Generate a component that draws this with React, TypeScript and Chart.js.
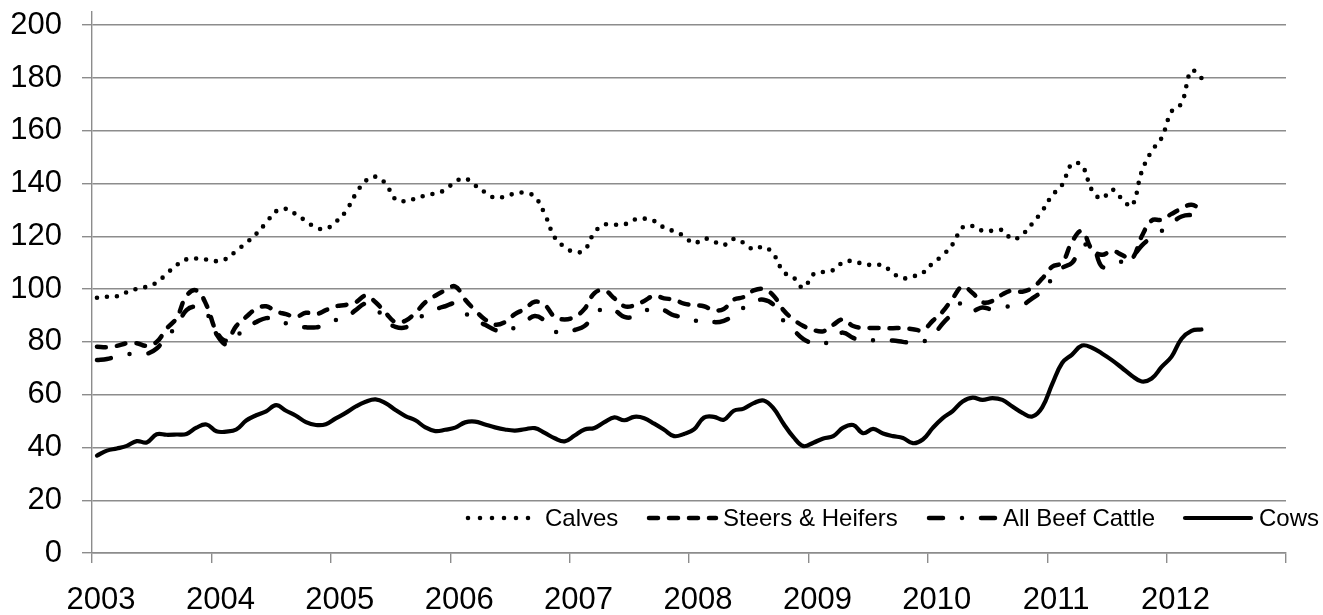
import React, { useEffect, useRef } from 'react';
import { Chart, registerables } from 'chart.js';

Chart.register(...registerables);

const START_YEAR = 2003;
const yearTicks = [2003, 2004, 2005, 2006, 2007, 2008, 2009, 2010, 2011, 2012, 2013];
const valueTicks = [0, 20, 40, 60, 80, 100, 120, 140, 160, 180, 200];
const seriesNames = ['Calves', 'Steers & Heifers', 'All Beef Cattle', 'Cows'];

// monthly values, Jan 2003 .. Apr 2012
const calves = [
  96.7, 97.1, 97.3, 98.8, 100.1, 100.9, 102.5, 105.8, 109.1, 111.3, 111.6, 111.2,
  110.6, 111.5, 114.5, 117.5, 120.9, 125.1, 129.5, 130.4, 128.3, 125.8, 123.3, 122.8,
  125.5, 129.4, 136, 141, 142.6, 140, 134, 133.3, 134.3, 135.5, 136.3, 137.6,
  140.7, 141.9, 139.3, 136.7, 134.6, 135.1, 136.2, 136.5, 135, 128.5, 119.6, 116,
  114, 114.8, 121.5, 124.4, 124.4, 124.5, 126.3, 126.7, 125.8, 123.3, 121.9, 120.1,
  117.3, 119.2, 118, 116.7, 119, 117.5, 115, 116.1, 113.2, 106.5, 104.4, 100.5,
  105.6, 106.5, 107.2, 110.2, 110.6, 109.5, 109.1, 109, 106, 104.1, 104.8, 106.2,
  109.8, 112.8, 117, 123.4, 123.9, 122.1, 122.1, 122.3, 118.9, 120.7, 124.8, 129.6,
  135.5, 139.5, 147.5, 146.8, 137.5, 134.3, 137.7, 134.3, 131.5, 144.5, 152.3, 157.3,
  167.3, 170.4, 182.8, 180,
];

const steersHeifers = [
  78.2, 78, 78.5, 79.5, 79.5, 78.5, 80, 85, 89, 97.5, 99.5, 94,
  84, 80.5, 86, 89.5, 92.5, 93.5, 91.5, 90.5, 89.5, 91, 90.5, 92,
  93.5, 94, 95, 97.5, 95, 91, 87.5, 88, 91, 95, 97.5, 99.5,
  101, 96, 92, 88.5, 86.5, 87.5, 90.5, 92.5, 95.2, 94, 89.5, 88.5,
  89.5, 92.5, 98.5, 99.5, 96.5, 93.5, 93.8, 95.5, 97.5, 96.5, 96, 94.5,
  94, 93.5, 92, 92.5, 96, 97, 99.5, 100, 97.5, 92, 88.5, 86,
  84.5, 84, 86.5, 88.5, 86, 85.3, 85.3, 85.2, 85.2, 85.2, 84.8, 84.5,
  88, 91.5, 96.5, 101, 98.5, 95, 95.5, 98, 99.5, 99, 100.5, 104,
  108.5, 110, 118, 122, 115, 113, 114.5, 113, 111.5, 120, 126, 126.3,
  128.5, 130.5, 132, 130,
];

const allBeefCattle = [
  73.1, 73.5, 74.5, 75.3, 75.5, 75.5, 77.5, 82, 86, 92, 93.3, 91,
  83, 79, 82, 85.6, 87.5, 89, 88.5, 87, 86, 85.5, 85.5, 86.5,
  88.3, 89.2, 92, 94.5, 93, 88, 85.7, 85.5, 88, 90.5, 92.3, 93.5,
  94.5, 91, 88, 86.5, 84.5, 83.8, 85.5, 87.5, 89.8, 88, 84, 83.5,
  84.5, 86, 90, 93, 92, 89.5, 89.5, 91.5, 93, 92, 90, 89.5,
  88, 88.5, 87.5, 88, 90, 93, 95.2, 96, 94, 88, 84.5, 81,
  79.5, 79, 82, 83.5, 81.5, 80.6, 80.6, 80.6, 80.5, 80, 79.6, 80,
  82.4, 87, 90.8, 95, 92, 93, 92.3, 93, 93.7, 94, 96.5, 99.2,
  104, 108, 110, 116, 117, 108.5, 109.5, 110.5, 112, 116.5, 119.6, 122,
  125, 127.5, 128, 127,
];

const cows = [
  36.9, 38.8, 39.6, 40.6, 42.4, 41.9, 45.0, 44.8, 44.9, 45.1, 47.5, 48.7,
  46.1, 46.0, 46.8, 50.2, 52.2, 53.7, 56.0, 53.9, 52.0, 49.6, 48.5, 48.8,
  51.0, 53.1, 55.5, 57.3, 58.2, 56.8, 54.2, 51.9, 50.3, 47.6, 46.2, 46.7,
  47.5, 49.5, 49.8, 48.7, 47.6, 46.8, 46.4, 46.9, 47.3, 45.5, 43.5, 42.3,
  44.5, 46.8, 47.4, 49.6, 51.4, 50.3, 51.6, 51.1, 49.0, 46.7, 44.3, 45.1,
  46.8, 51.3, 51.6, 50.5, 53.9, 54.7, 56.8, 57.8, 54.8, 49.0, 43.9, 40.5,
  41.8, 43.4, 44.3, 47.5, 48.5, 45.4, 47.0, 45.3, 44.3, 43.6, 41.6, 43.0,
  47.4, 51.1, 53.8, 57.4, 58.9, 58.0, 58.7, 58.0, 55.5, 53.1, 51.7, 55.2,
  64.0, 72.0, 75.2, 78.6, 77.8, 75.6, 73.1, 70.2, 67.2, 65.0, 66.1, 70.5,
  74.4, 81.2, 84.2, 84.7,
];

const FONT = "'Liberation Sans', Arial, Helvetica, sans-serif";
const GRID = '#8c8c8c';

const toPoints = (vals: number[]) =>
  vals.map((v, i) => ({ x: START_YEAR + (i + 0.5) / 12, y: v }));

const styles = [
  { dash: [0, 10], width: 4.6 },
  { dash: [9, 11], width: 4.5 },
  { dash: [14, 19, 0, 19], width: 4.5 },
  { dash: [], width: 4.2 },
];

const legendLayout = [
  { x0: 468, x1: 529, dash: [0, 12], tx: 545 },
  { x0: 649, x1: 716, dash: [9, 11], tx: 723 },
  { x0: 929, x1: 996, dash: [14, 19, 0, 19], tx: 1003 },
  { x0: 1185, x1: 1251, dash: [], tx: 1259 },
];

const legendPlugin = {
  id: 'insideLegend',
  afterDraw(chart: any) {
    const ctx = chart.ctx as CanvasRenderingContext2D;
    const y = chart.chartArea.bottom - 35;
    ctx.save();
    legendLayout.forEach((it, i) => {
      ctx.beginPath();
      ctx.strokeStyle = '#000';
      ctx.lineWidth = styles[i].width;
      ctx.lineCap = 'round';
      ctx.setLineDash(it.dash);
      ctx.moveTo(it.x0, y);
      ctx.lineTo(it.x1, y);
      ctx.stroke();
      ctx.setLineDash([]);
      ctx.fillStyle = '#000';
      ctx.font = `24px ${FONT}`;
      ctx.textAlign = 'left';
      ctx.textBaseline = 'middle';
      ctx.fillText(seriesNames[i], it.tx, y + 1);
    });
    ctx.restore();
  },
};

export default function App() {
  const ref = useRef<HTMLCanvasElement | null>(null);

  useEffect(() => {
    if (!ref.current) return;
    const all = [calves, steersHeifers, allBeefCattle, cows];
    const chart = new Chart(ref.current, {
      type: 'line',
      data: {
        datasets: all.map((vals, i) => ({
          label: seriesNames[i],
          data: toPoints(vals),
          borderColor: '#000',
          backgroundColor: '#000',
          borderWidth: styles[i].width,
          borderDash: styles[i].dash,
          borderCapStyle: 'round' as const,
          borderJoinStyle: 'round' as const,
          pointRadius: 0,
          tension: 0.4,
          fill: false,
        })),
      },
      options: {
        animation: false,
        responsive: false,
        devicePixelRatio: 1,
        layout: { padding: { top: 12, right: 37, left: 0, bottom: 0 } },
        plugins: { legend: { display: false }, tooltip: { enabled: false } },
        scales: {
          x: {
            type: 'linear',
            min: 2003,
            max: 2013,
            afterBuildTicks: (s: any) => {
              s.ticks = yearTicks.map((v) => ({ value: v }));
            },
            afterFit: (s: any) => {
              s.height = 62;
              s.paddingLeft = 0;
              s.paddingRight = 0;
            },
            grid: {
              drawOnChartArea: false,
              drawTicks: true,
              tickLength: 10,
              color: GRID,
              lineWidth: 1.4,
            },
            border: { display: true, color: GRID, width: 1.4 },
            ticks: {
              autoSkip: false,
              maxRotation: 0,
              labelOffset: 9,
              padding: 19,
              color: '#000',
              font: { family: FONT, size: 31 },
              callback: (v: any) => (Number(v) === 2013 ? '' : String(v)),
            },
          },
          y: {
            type: 'linear',
            min: 0,
            max: 205,
            afterBuildTicks: (s: any) => {
              s.ticks = valueTicks.map((v) => ({ value: v }));
            },
            afterFit: (s: any) => {
              s.width = 92;
              s.paddingTop = 0;
              s.paddingBottom = 0;
            },
            grid: {
              color: GRID,
              lineWidth: 1.4,
              tickLength: 10,
              drawTicks: true,
            },
            border: { display: true, color: GRID, width: 1.4 },
            ticks: {
              padding: 20,
              color: '#000',
              font: { family: FONT, size: 31 },
              callback: (v: any) => String(v),
            },
          },
        },
      },
      plugins: [legendPlugin],
    });
    return () => chart.destroy();
  }, []);

  return (
    <div style={{ position: 'fixed', left: 0, top: 0, width: 1323, height: 615, background: '#fff' }}>
      <canvas ref={ref} width={1323} height={615} style={{ width: 1323, height: 615, display: 'block' }} />
    </div>
  );
}
